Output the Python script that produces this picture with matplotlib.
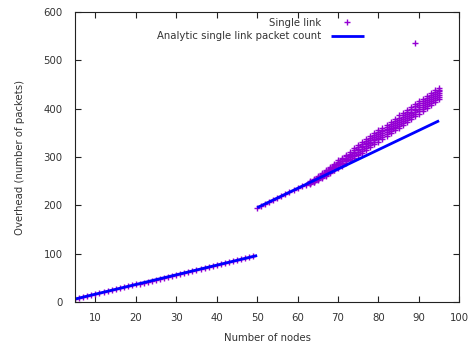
import matplotlib
matplotlib.use("Agg")
import matplotlib.pyplot as plt

# ---------------------------------------------------------------------------
# data
# ---------------------------------------------------------------------------
# single run per node where the measurement sits on the analytic line
nodes_low = list(range(5, 63))
single_low = [6, 8, 10, 12, 14, 16, 18, 20, 22, 24, 26, 28, 30, 32, 34,
              36, 38, 40, 42, 44, 46, 48, 50, 52, 54, 56, 58, 60, 62, 64,
              66, 68, 70, 72, 74, 76, 78, 80, 82, 84, 86, 88, 90, 92, 94,
              195, 199, 203, 207, 211, 215, 219, 223, 227, 231, 235, 239, 243]

# several runs per node where the measurement leaves the analytic line
nodes_high = list(range(63, 96))
single_high = [
    [245, 246, 247, 247, 248, 249, 250],
    [248, 249, 251, 251, 252, 253, 255],
    [252, 254, 255, 256, 257, 259, 260],
    [256, 258, 260, 261, 262, 264, 266],
    [261, 263, 266, 267, 268, 270, 273],
    [266, 269, 271, 273, 275, 277, 280],
    [272, 274, 277, 279, 281, 284, 286],
    [277, 280, 283, 285, 288, 290, 293],
    [282, 285, 288, 291, 292, 295, 298],
    [287, 291, 294, 296, 298, 301, 305],
    [293, 296, 300, 302, 304, 307, 311],
    [298, 302, 305, 308, 311, 314, 318],
    [304, 307, 311, 314, 317, 320, 324],
    [309, 313, 317, 320, 323, 327, 331],
    [315, 319, 323, 326, 329, 333, 337],
    [321, 325, 329, 332, 335, 339, 343],
    [327, 330, 335, 338, 341, 345, 349],
    [332, 337, 340, 344, 347, 351, 356],
    [337, 342, 346, 349, 353, 356, 361],
    [343, 347, 352, 355, 358, 362, 367],
    [349, 353, 357, 361, 364, 368, 373],
    [355, 359, 363, 367, 371, 375, 379],
    [360, 365, 369, 373, 377, 381, 386],
    [366, 371, 375, 379, 382, 387, 392],
    [372, 377, 381, 385, 389, 393, 398],
    [378, 383, 387, 391, 394, 399, 404],
    [384, 389, 393, 397, 400, 405, 410],
    [390, 395, 399, 403, 407, 411, 416],
    [395, 400, 404, 408, 412, 416, 421],
    [401, 406, 410, 414, 418, 422, 427],
    [407, 412, 416, 420, 424, 428, 433],
    [414, 418, 422, 426, 430, 434, 438],
    [421, 424, 428, 432, 436, 439, 443],
]
outlier_node = [89]
outlier_value = [537]

# analytic packet count (two straight pieces)
analytic_x_low = [5, 50]
analytic_y_low = [6, 96]
analytic_x_high = [50, 95]
analytic_y_high = [195, 375]

# ---------------------------------------------------------------------------
# plot
# ---------------------------------------------------------------------------
plt.rcParams["font.family"] = "DejaVu Sans"
text_col = "#333333"
fs = 7.3

fig = plt.figure(figsize=(4.73, 3.45), dpi=100)
ax = fig.add_axes([0.159, 0.125, 0.812, 0.840])

purple = "#9400d3"
mk = dict(linestyle="none", marker="+", color=purple, mec=purple,
          ms=4.2, mew=1.0)

ax.plot(nodes_low, single_low, label="Single link", **mk)
for n, vals in zip(nodes_high, single_high):
    ax.plot([n] * len(vals), vals, **mk)
ax.plot(outlier_node, outlier_value, **mk)

ax.plot(analytic_x_low, analytic_y_low, color="#0000ff", lw=2,
        solid_capstyle="butt", label="Analytic single link packet count")
ax.plot(analytic_x_high, analytic_y_high, color="#0000ff", lw=2,
        solid_capstyle="butt")

ax.set_xlim(5, 100)
ax.set_ylim(0, 600)
ax.set_xticks(range(10, 101, 10))
ax.set_yticks(range(0, 601, 100))
ax.tick_params(direction="in", top=True, right=True, length=4, width=0.8,
               labelsize=fs, labelcolor=text_col, color="#222222")
ax.tick_params(axis="x", pad=8)
ax.tick_params(axis="y", pad=9)
for s in ax.spines.values():
    s.set_color("#222222")
    s.set_linewidth(0.8)

ax.set_xlabel("Number of nodes", fontsize=fs, color=text_col, labelpad=7.5)
ax.set_ylabel("Overhead (number of packets)", fontsize=fs, color=text_col,
              labelpad=13)

leg = ax.legend(loc="upper right", bbox_to_anchor=(0.76, 0.99),
                markerfirst=False, frameon=False, fontsize=fs,
                handlelength=3.3, handletextpad=0.9, labelspacing=0.3,
                borderpad=0.3, borderaxespad=0.0)
for t in leg.get_texts():
    t.set_color(text_col)

fig.savefig("out.png", dpi=100)
